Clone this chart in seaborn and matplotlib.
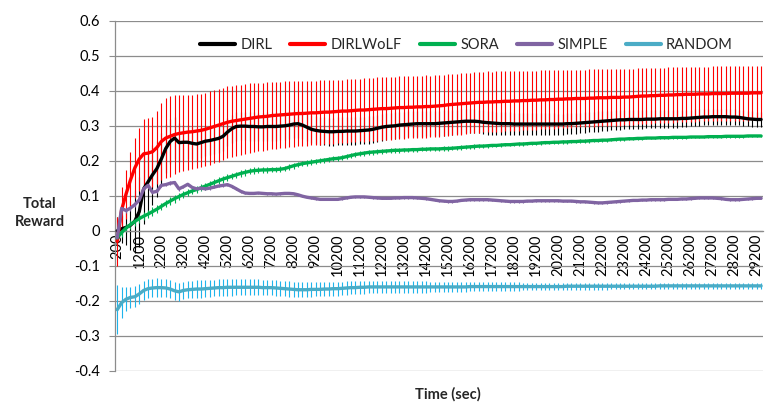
import numpy as np
import pandas as pd
import matplotlib
matplotlib.use("Agg")
import matplotlib.pyplot as plt
import seaborn as sns
from matplotlib.ticker import FixedLocator, NullFormatter

# Sampling instants (seconds), one every 200 s
time_sec = list(range(200, 29401, 200))
tick_labels = [str(t) for t in range(200, 29201, 1000)]

methods = ["DIRL", "DIRLWoLF", "SORA", "SIMPLE", "RANDOM"]
line_colors = ["#000000", "#FF0000", "#00B050", "#8064A2", "#4BACC6"]
bar_colors = ["#000000", "#FF0000", "#00B050", "#8064A2", "#1EB4EC"]

dirl = [
    0.0, 0.006, 0.01, 0.016, 0.028, 0.055, 0.12, 0.14, 0.16, 0.178,
    0.205, 0.235, 0.255, 0.265, 0.252, 0.253, 0.253, 0.25, 0.248, 0.252,
    0.256, 0.258, 0.261, 0.264, 0.27, 0.282, 0.292, 0.298, 0.299, 0.299,
    0.298, 0.298, 0.297, 0.297, 0.298, 0.298, 0.298, 0.299, 0.3, 0.302,
    0.305, 0.306, 0.302, 0.296, 0.29, 0.287, 0.285, 0.284, 0.283, 0.283,
    0.284, 0.284, 0.285, 0.285, 0.285, 0.286, 0.287, 0.288, 0.29, 0.293,
    0.296, 0.298, 0.299, 0.3, 0.302, 0.303, 0.304, 0.305, 0.306, 0.306,
    0.306, 0.306, 0.306, 0.307, 0.308, 0.309, 0.31, 0.311, 0.312, 0.313,
    0.313, 0.313, 0.312, 0.31, 0.309, 0.308, 0.307, 0.306, 0.306, 0.306,
    0.305, 0.305, 0.305, 0.305, 0.305, 0.305, 0.305, 0.305, 0.305, 0.305,
    0.305, 0.305, 0.306, 0.306, 0.307, 0.308, 0.309, 0.31, 0.311, 0.312,
    0.313, 0.314, 0.315, 0.316, 0.317, 0.317, 0.318, 0.318, 0.318, 0.318,
    0.319, 0.319, 0.319, 0.32, 0.32, 0.32, 0.32, 0.32, 0.321, 0.321,
    0.322, 0.323, 0.324, 0.325, 0.325, 0.326, 0.326, 0.326, 0.326, 0.325,
    0.325, 0.324, 0.322, 0.32, 0.319, 0.318, 0.318,
]
dirl_err = [
    0.04, 0.04, 0.05, 0.07, 0.09, 0.1, 0.1, 0.09, 0.085, 0.08,
    0.075, 0.07, 0.065, 0.06, 0.055, 0.05, 0.048, 0.046, 0.045, 0.044,
    0.043, 0.042, 0.042, 0.041, 0.041, 0.04, 0.04, 0.04, 0.04, 0.04,
    0.04, 0.04, 0.04, 0.04, 0.04, 0.04, 0.04, 0.04, 0.04, 0.04,
    0.04, 0.04, 0.04, 0.04, 0.04, 0.04, 0.04, 0.04, 0.04, 0.04,
    0.04, 0.04, 0.04, 0.04, 0.04, 0.039, 0.039, 0.039, 0.039, 0.039,
    0.038, 0.038, 0.038, 0.038, 0.038, 0.037, 0.037, 0.037, 0.037, 0.037,
    0.036, 0.036, 0.036, 0.036, 0.036, 0.035, 0.035, 0.035, 0.035, 0.035,
    0.034, 0.034, 0.034, 0.034, 0.034, 0.033, 0.033, 0.033, 0.033, 0.033,
    0.032, 0.032, 0.032, 0.032, 0.032, 0.031, 0.031, 0.031, 0.031, 0.031,
    0.03, 0.03, 0.03, 0.03, 0.03, 0.029, 0.029, 0.029, 0.029, 0.029,
    0.028, 0.028, 0.028, 0.028, 0.028, 0.027, 0.027, 0.027, 0.027, 0.027,
    0.026, 0.026, 0.026, 0.026, 0.026, 0.025, 0.025, 0.025, 0.025, 0.025,
    0.024, 0.024, 0.024, 0.024, 0.024, 0.023, 0.023, 0.023, 0.023, 0.023,
    0.022, 0.022, 0.022, 0.022, 0.022, 0.022, 0.022,
]

dirlwolf = [
    -0.03, 0.06, 0.105, 0.145, 0.18, 0.205, 0.22, 0.222, 0.226, 0.238,
    0.255, 0.265, 0.27, 0.275, 0.278, 0.28, 0.282, 0.283, 0.285, 0.287,
    0.29, 0.294, 0.298, 0.302, 0.306, 0.31, 0.313, 0.315, 0.317, 0.319,
    0.321, 0.323, 0.325, 0.326, 0.327, 0.329, 0.33, 0.331, 0.332, 0.333,
    0.334, 0.335, 0.335, 0.336, 0.337, 0.337, 0.338, 0.339, 0.339, 0.34,
    0.341, 0.342, 0.342, 0.343, 0.344, 0.345, 0.345, 0.346, 0.347, 0.348,
    0.349, 0.349, 0.35, 0.351, 0.352, 0.352, 0.353, 0.353, 0.354, 0.354,
    0.355, 0.355, 0.356, 0.357, 0.358, 0.36, 0.361, 0.362, 0.363, 0.364,
    0.365, 0.366, 0.367, 0.367, 0.368, 0.368, 0.369, 0.369, 0.37, 0.37,
    0.371, 0.371, 0.372, 0.372, 0.373, 0.373, 0.374, 0.374, 0.375, 0.375,
    0.376, 0.376, 0.377, 0.377, 0.378, 0.378, 0.378, 0.379, 0.379, 0.38,
    0.38, 0.38, 0.381, 0.381, 0.381, 0.382, 0.382, 0.383, 0.384, 0.385,
    0.385, 0.386, 0.386, 0.387, 0.387, 0.388, 0.388, 0.389, 0.389, 0.39,
    0.39, 0.39, 0.391, 0.391, 0.391, 0.392, 0.392, 0.392, 0.392, 0.393,
    0.393, 0.393, 0.393, 0.393, 0.394, 0.394, 0.394,
]
dirlwolf_err = [
    0.07, 0.065, 0.07, 0.08, 0.085, 0.09, 0.1, 0.1, 0.1, 0.105,
    0.11, 0.115, 0.115, 0.112, 0.11, 0.108, 0.107, 0.106, 0.106, 0.105,
    0.105, 0.105, 0.104, 0.104, 0.103, 0.103, 0.102, 0.101, 0.1, 0.1,
    0.1, 0.099, 0.098, 0.097, 0.097, 0.096, 0.096, 0.095, 0.095, 0.094,
    0.094, 0.093, 0.093, 0.093, 0.092, 0.092, 0.092, 0.091, 0.091, 0.091,
    0.09, 0.09, 0.091, 0.09, 0.09, 0.089, 0.09, 0.09, 0.089, 0.09,
    0.09, 0.089, 0.09, 0.089, 0.089, 0.09, 0.089, 0.089, 0.089, 0.088,
    0.089, 0.088, 0.089, 0.088, 0.088, 0.088, 0.088, 0.087, 0.088, 0.087,
    0.087, 0.087, 0.087, 0.086, 0.087, 0.086, 0.086, 0.086, 0.086, 0.085,
    0.085, 0.085, 0.085, 0.085, 0.084, 0.084, 0.084, 0.084, 0.084, 0.083,
    0.083, 0.083, 0.083, 0.083, 0.082, 0.082, 0.082, 0.082, 0.082, 0.081,
    0.081, 0.081, 0.081, 0.081, 0.081, 0.08, 0.08, 0.08, 0.08, 0.08,
    0.08, 0.08, 0.079, 0.079, 0.079, 0.079, 0.079, 0.079, 0.079, 0.079,
    0.078, 0.078, 0.078, 0.078, 0.078, 0.078, 0.078, 0.078, 0.078, 0.078,
    0.078, 0.078, 0.078, 0.078, 0.078, 0.078, 0.078,
]

sora = [
    -0.02, -0.005, 0.008, 0.018, 0.027, 0.035, 0.042, 0.048, 0.055, 0.062,
    0.07, 0.078, 0.085, 0.092, 0.098, 0.104, 0.109, 0.114, 0.118, 0.123,
    0.128, 0.133, 0.138, 0.143, 0.148, 0.152, 0.156, 0.16, 0.164, 0.167,
    0.17, 0.172, 0.173, 0.174, 0.174, 0.175, 0.175, 0.176, 0.178, 0.182,
    0.186, 0.189, 0.192, 0.194, 0.196, 0.198, 0.2, 0.202, 0.204, 0.206,
    0.207, 0.209, 0.212, 0.215, 0.218, 0.22, 0.222, 0.224, 0.225, 0.226,
    0.227, 0.228, 0.229, 0.23, 0.23, 0.231, 0.231, 0.232, 0.232, 0.233,
    0.233, 0.234, 0.234, 0.234, 0.235, 0.235, 0.236, 0.237, 0.238, 0.239,
    0.24, 0.241, 0.242, 0.242, 0.243, 0.244, 0.244, 0.245, 0.246, 0.246,
    0.247, 0.248, 0.248, 0.249, 0.25, 0.25, 0.251, 0.252, 0.252, 0.253,
    0.253, 0.254, 0.254, 0.255, 0.255, 0.256, 0.256, 0.257, 0.258, 0.258,
    0.259, 0.259, 0.26, 0.261, 0.262, 0.262, 0.263, 0.263, 0.264, 0.264,
    0.265, 0.265, 0.265, 0.266, 0.266, 0.266, 0.267, 0.267, 0.267, 0.267,
    0.268, 0.268, 0.268, 0.268, 0.269, 0.269, 0.269, 0.269, 0.27, 0.27,
    0.27, 0.27, 0.27, 0.271, 0.271, 0.271, 0.271,
]
sora_err = [
    0.012, 0.012, 0.012, 0.012, 0.012, 0.012, 0.012, 0.012, 0.012, 0.012,
    0.011, 0.011, 0.011, 0.011, 0.011, 0.01, 0.01, 0.01, 0.01, 0.01,
    0.01, 0.01, 0.01, 0.01, 0.01, 0.009, 0.009, 0.009, 0.009, 0.009,
    0.009, 0.009, 0.009, 0.009, 0.009, 0.008, 0.008, 0.008, 0.008, 0.008,
    0.008, 0.008, 0.008, 0.008, 0.008, 0.007, 0.007, 0.007, 0.007, 0.007,
    0.007, 0.007, 0.007, 0.007, 0.007, 0.007, 0.007, 0.007, 0.007, 0.007,
    0.007, 0.007, 0.007, 0.007, 0.007, 0.006, 0.006, 0.006, 0.006, 0.006,
    0.006, 0.006, 0.006, 0.006, 0.006, 0.006, 0.006, 0.006, 0.006, 0.006,
    0.006, 0.006, 0.006, 0.006, 0.006, 0.005, 0.005, 0.005, 0.005, 0.005,
    0.005, 0.005, 0.005, 0.005, 0.005, 0.005, 0.005, 0.005, 0.005, 0.005,
    0.005, 0.005, 0.005, 0.005, 0.005, 0.005, 0.005, 0.005, 0.005, 0.005,
    0.004, 0.004, 0.004, 0.004, 0.004, 0.004, 0.004, 0.004, 0.004, 0.004,
    0.004, 0.004, 0.004, 0.004, 0.004, 0.004, 0.004, 0.004, 0.004, 0.004,
    0.004, 0.004, 0.004, 0.004, 0.004, 0.004, 0.004, 0.004, 0.004, 0.004,
    0.004, 0.004, 0.004, 0.004, 0.004, 0.004, 0.004,
]

simple = [
    -0.02, 0.064, 0.058, 0.065, 0.075, 0.088, 0.12, 0.13, 0.11, 0.113,
    0.13, 0.132, 0.136, 0.138, 0.12, 0.126, 0.133, 0.124, 0.12, 0.122,
    0.12, 0.122, 0.125, 0.128, 0.13, 0.132, 0.127, 0.12, 0.113, 0.108,
    0.107, 0.107, 0.108, 0.107, 0.106, 0.106, 0.105, 0.106, 0.107, 0.107,
    0.106, 0.103, 0.099, 0.096, 0.094, 0.092, 0.09, 0.09, 0.09, 0.09,
    0.09, 0.092, 0.094, 0.096, 0.097, 0.097, 0.097, 0.096, 0.095, 0.094,
    0.093, 0.093, 0.093, 0.094, 0.094, 0.095, 0.095, 0.095, 0.094, 0.093,
    0.092, 0.09, 0.088, 0.086, 0.085, 0.084, 0.084, 0.085, 0.087, 0.088,
    0.089, 0.089, 0.089, 0.089, 0.089, 0.088, 0.087, 0.086, 0.085, 0.084,
    0.084, 0.084, 0.084, 0.085, 0.085, 0.086, 0.086, 0.086, 0.086, 0.086,
    0.086, 0.085, 0.085, 0.085, 0.084, 0.083, 0.083, 0.082, 0.081, 0.08,
    0.08, 0.081, 0.082, 0.083, 0.084, 0.085, 0.086, 0.087, 0.087, 0.088,
    0.088, 0.089, 0.089, 0.089, 0.089, 0.09, 0.09, 0.09, 0.091, 0.091,
    0.092, 0.093, 0.094, 0.094, 0.094, 0.094, 0.093, 0.092, 0.09, 0.089,
    0.089, 0.089, 0.09, 0.091, 0.092, 0.093, 0.093,
]
simple_err = [
    0.01, 0.008, 0.008, 0.007, 0.007, 0.006, 0.006, 0.006, 0.005, 0.005,
    0.005, 0.005, 0.005, 0.005, 0.005, 0.004, 0.004, 0.004, 0.004, 0.004,
    0.004, 0.004, 0.004, 0.004, 0.004, 0.004, 0.004, 0.004, 0.004, 0.004,
    0.003, 0.003, 0.003, 0.003, 0.003, 0.003, 0.003, 0.003, 0.003, 0.003,
    0.003, 0.003, 0.003, 0.003, 0.003, 0.003, 0.003, 0.003, 0.003, 0.003,
    0.003, 0.003, 0.003, 0.003, 0.003, 0.003, 0.003, 0.003, 0.003, 0.003,
    0.003, 0.003, 0.003, 0.003, 0.003, 0.003, 0.003, 0.003, 0.003, 0.003,
    0.003, 0.003, 0.003, 0.003, 0.003, 0.003, 0.003, 0.003, 0.003, 0.003,
    0.003, 0.003, 0.003, 0.003, 0.003, 0.003, 0.003, 0.003, 0.003, 0.003,
    0.003, 0.003, 0.003, 0.003, 0.003, 0.003, 0.003, 0.003, 0.003, 0.003,
    0.003, 0.003, 0.003, 0.003, 0.003, 0.003, 0.003, 0.003, 0.003, 0.003,
    0.003, 0.003, 0.003, 0.003, 0.003, 0.003, 0.003, 0.003, 0.003, 0.003,
    0.003, 0.003, 0.003, 0.003, 0.003, 0.003, 0.003, 0.003, 0.003, 0.003,
    0.003, 0.003, 0.003, 0.003, 0.003, 0.003, 0.003, 0.003, 0.003, 0.003,
    0.003, 0.003, 0.003, 0.003, 0.003, 0.003, 0.003,
]

random_policy = [
    -0.225, -0.205, -0.195, -0.19, -0.188, -0.18, -0.17, -0.165, -0.163, -0.162,
    -0.162, -0.163, -0.166, -0.171, -0.174, -0.17, -0.168, -0.167, -0.166, -0.166,
    -0.165, -0.164, -0.163, -0.162, -0.162, -0.161, -0.161, -0.161, -0.161, -0.161,
    -0.161, -0.161, -0.161, -0.162, -0.162, -0.162, -0.163, -0.164, -0.165, -0.166,
    -0.167, -0.168, -0.168, -0.168, -0.167, -0.167, -0.167, -0.166, -0.166, -0.165,
    -0.165, -0.164, -0.163, -0.162, -0.162, -0.161, -0.161, -0.16, -0.16, -0.16,
    -0.16, -0.16, -0.16, -0.16, -0.16, -0.16, -0.16, -0.16, -0.16, -0.16,
    -0.16, -0.16, -0.16, -0.16, -0.16, -0.16, -0.16, -0.16, -0.16, -0.16,
    -0.159, -0.159, -0.159, -0.159, -0.159, -0.159, -0.159, -0.159, -0.159, -0.159,
    -0.159, -0.159, -0.159, -0.159, -0.159, -0.159, -0.159, -0.159, -0.159, -0.159,
    -0.159, -0.159, -0.158, -0.158, -0.158, -0.158, -0.158, -0.158, -0.158, -0.158,
    -0.158, -0.158, -0.158, -0.158, -0.158, -0.158, -0.158, -0.158, -0.158, -0.158,
    -0.158, -0.158, -0.158, -0.157, -0.157, -0.157, -0.157, -0.157, -0.157, -0.157,
    -0.157, -0.157, -0.157, -0.157, -0.157, -0.157, -0.157, -0.157, -0.157, -0.157,
    -0.157, -0.157, -0.157, -0.157, -0.157, -0.157, -0.157,
]
random_err = [
    0.07, 0.045, 0.035, 0.03, 0.03, 0.028, 0.028, 0.027, 0.027, 0.027,
    0.026, 0.026, 0.026, 0.026, 0.026, 0.025, 0.025, 0.025, 0.025, 0.025,
    0.025, 0.025, 0.024, 0.024, 0.024, 0.024, 0.024, 0.023, 0.023, 0.023,
    0.023, 0.023, 0.023, 0.022, 0.022, 0.022, 0.022, 0.022, 0.022, 0.022,
    0.022, 0.021, 0.021, 0.021, 0.021, 0.02, 0.02, 0.02, 0.02, 0.02,
    0.02, 0.019, 0.019, 0.019, 0.019, 0.019, 0.018, 0.018, 0.018, 0.018,
    0.018, 0.017, 0.017, 0.017, 0.017, 0.017, 0.016, 0.016, 0.016, 0.016,
    0.016, 0.015, 0.015, 0.015, 0.015, 0.015, 0.014, 0.014, 0.014, 0.014,
    0.014, 0.013, 0.013, 0.013, 0.013, 0.013, 0.012, 0.012, 0.012, 0.012,
    0.012, 0.012, 0.011, 0.011, 0.011, 0.011, 0.011, 0.011, 0.011, 0.011,
    0.011, 0.01, 0.01, 0.01, 0.01, 0.01, 0.01, 0.01, 0.01, 0.01,
    0.01, 0.01, 0.009, 0.009, 0.009, 0.009, 0.009, 0.009, 0.009, 0.009,
    0.009, 0.009, 0.009, 0.009, 0.008, 0.008, 0.008, 0.008, 0.008, 0.008,
    0.008, 0.008, 0.008, 0.008, 0.008, 0.008, 0.008, 0.008, 0.008, 0.008,
    0.008, 0.008, 0.008, 0.008, 0.008, 0.008, 0.008,
]

means = [dirl, dirlwolf, sora, simple, random_policy]
errors = [dirl_err, dirlwolf_err, sora_err, simple_err, random_err]

frames = []
for name, vals, errs in zip(methods, means, errors):
    frames.append(pd.DataFrame({"time": time_sec, "reward": vals, "err": errs, "method": name}))
df = pd.concat(frames, ignore_index=True)

sns.set_theme(style="white")
plt.rcParams["font.family"] = ["Lato", "DejaVu Sans"]
grid_gray = "#8C8C8C"

fig = plt.figure(figsize=(7.65, 4.04), dpi=100)
ax = fig.add_axes([115 / 765, 1 - 371 / 404, 648.3 / 765, 350.3 / 404])

# category axis crosses the value axis at zero
for side in ["top", "right"]:
    ax.spines[side].set_visible(False)
ax.spines["bottom"].set_position(("data", 0))
ax.spines["bottom"].set_color(grid_gray)
ax.spines["left"].set_color(grid_gray)
ax.spines["bottom"].set_linewidth(0.9)
ax.spines["left"].set_linewidth(0.9)

# error bars underneath the mean curves
for name, ecol in zip(methods, bar_colors):
    sub = df[df["method"] == name]
    ax.errorbar(sub["time"], sub["reward"], yerr=sub["err"], fmt="none",
                ecolor=ecol, elinewidth=0.8, capsize=0, zorder=2)

sns.lineplot(data=df, x="time", y="reward", hue="method", hue_order=methods,
             palette=dict(zip(methods, line_colors)), linewidth=2.4,
             errorbar=None, ax=ax, zorder=3)

ax.set_xlim(100, 29500)
ax.set_ylim(-0.4, 0.6)
ax.set_yticks(np.round(np.arange(-0.4, 0.61, 0.1), 1))
ax.set_yticklabels(["-0.4", "-0.3", "-0.2", "-0.1", "0", "0.1", "0.2", "0.3", "0.4", "0.5", "0.6"])
ax.yaxis.grid(True, color=grid_gray, linewidth=0.9)
ax.set_axisbelow(True)

ax.set_xticks(list(range(200, 29201, 1000)))
ax.set_xticklabels(tick_labels)
ax.xaxis.set_minor_locator(FixedLocator(list(range(100, 29501, 200))))
ax.xaxis.set_minor_formatter(NullFormatter())
ax.tick_params(axis="x", which="major", length=0, pad=2, labelsize=10.5,
               colors="black", labelrotation=90)
ax.tick_params(axis="x", which="minor", length=4, width=0.8, color=grid_gray, direction="out")
ax.tick_params(axis="y", which="major", length=4, width=0.8, color=grid_gray, pad=7,
               labelsize=10.5, labelcolor="black", left=True)
for lab in ax.get_xticklabels():
    lab.set_verticalalignment("top")
    lab.set_horizontalalignment("center")

ax.set_xlabel("")
ax.set_ylabel("")

leg = ax.legend(loc="center", bbox_to_anchor=(0.542, 0.931), ncol=5, frameon=False,
                fontsize=10.5, handlelength=2.4, handletextpad=0.35, columnspacing=1.25)
for line in leg.get_lines():
    line.set_linewidth(3.0)

fig.text(40 / 765, 1 - 213 / 404, "Total\nReward", ha="center", va="center",
         fontsize=10.5, fontweight="bold", linespacing=1.3)
fig.text(448 / 765, 1 - 394 / 404, "Time (sec)", ha="center", va="center",
         fontsize=10.5, fontweight="bold")

fig.savefig("out.png", dpi=100)
